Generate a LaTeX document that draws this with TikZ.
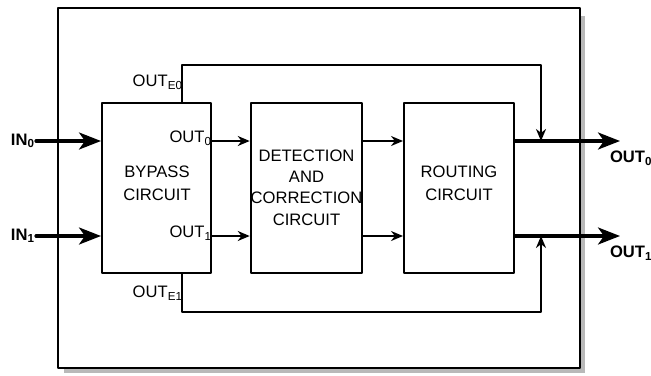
\documentclass[tikz,border=0pt]{standalone}
\usepackage{fontspec}
\setmainfont{Liberation Sans}
\usetikzlibrary{arrows.meta}
\begin{document}
\begin{tikzpicture}[x=0.5pt,y=-0.5pt,line join=round,line cap=round,>={Stealth[length=6pt,width=5pt]},line width=1pt]
			\tikzset{every node/.style={font=\fontsize{8.3}{11.5}\selectfont},
				block/.style={draw,line width=1pt,minimum width=#1,minimum height=85pt,inner sep=0pt,align=center},
				bigarrow/.style={line width=1.6pt,-{Stealth[length=11pt,width=8.5pt,inset=3pt]}},
				tag/.style={inner sep=0pt,font=\fontsize{8.3}{11.5}\selectfont\bfseries}}
			\useasboundingbox (0,0) rectangle (651,375);
			% frame and its shadow
			\fill[gray!55] (64,16) rectangle (585,373);
			\draw[fill=white] (58,8) rectangle (580,368);
			% the three circuits
			\node[block=54.5pt] (bypass) at (156.5,188) {};
			\node[block=53.5pt,font=\fontsize{8.3}{10.7}\selectfont] (detect) at (306.5,187.5) {DETECTION\\AND\\CORRECTION\\CIRCUIT};
			\node[block=55pt] (route) at (459,187.5) {};
			\node[align=center] (bypasstxt) at (157,183) {BYPASS\\CIRCUIT};
			\node[align=center] (routetxt) at (459,183) {ROUTING\\CIRCUIT};
			% the two data paths
			\foreach \i/\y in {0/141,1/236}{
				\coordinate (in\i) at (36,\y);
				\coordinate (out\i) at (620,\y);
				\node[tag,anchor=east] (inlbl\i) at (in\i) {IN\textsubscript{\i}};
				\node[tag,anchor=north west] (outlbl\i) at (609,\y+9) {OUT\textsubscript{\i}};
				\draw[bigarrow] (in\i) -- (in\i -| bypass.west);
				\draw[->] (in\i -| bypass.east) -- (in\i -| detect.west);
				\draw[->] (in\i -| detect.east) -- (in\i -| route.west);
				\draw[bigarrow] (in\i -| route.east) -- (out\i);
			}
			\node[inner sep=0pt,anchor=east] (bout0) at (213,138) {OUT\textsubscript{0}};
			\node[inner sep=0pt,anchor=east] (bout1) at (213,233) {OUT\textsubscript{1}};
			% bypass lines
			\coordinate (e0) at (182,65);
			\coordinate (f0) at (541,65);
			\coordinate (e1) at (182,312);
			\coordinate (f1) at (541,312);
			\node[inner sep=0pt,anchor=east] (eout0) at (184,82) {OUT\textsubscript{E0}};
			\node[inner sep=0pt,anchor=east] (eout1) at (184,293) {OUT\textsubscript{E1}};
			\draw[->] (e0 |- bypass.north) -- (e0) -- (f0) -- (f0 |- out0);
			\draw[->] (e1 |- bypass.south) -- (e1) -- (f1) -- (f1 |- out1);
		\end{tikzpicture}
\end{document}
